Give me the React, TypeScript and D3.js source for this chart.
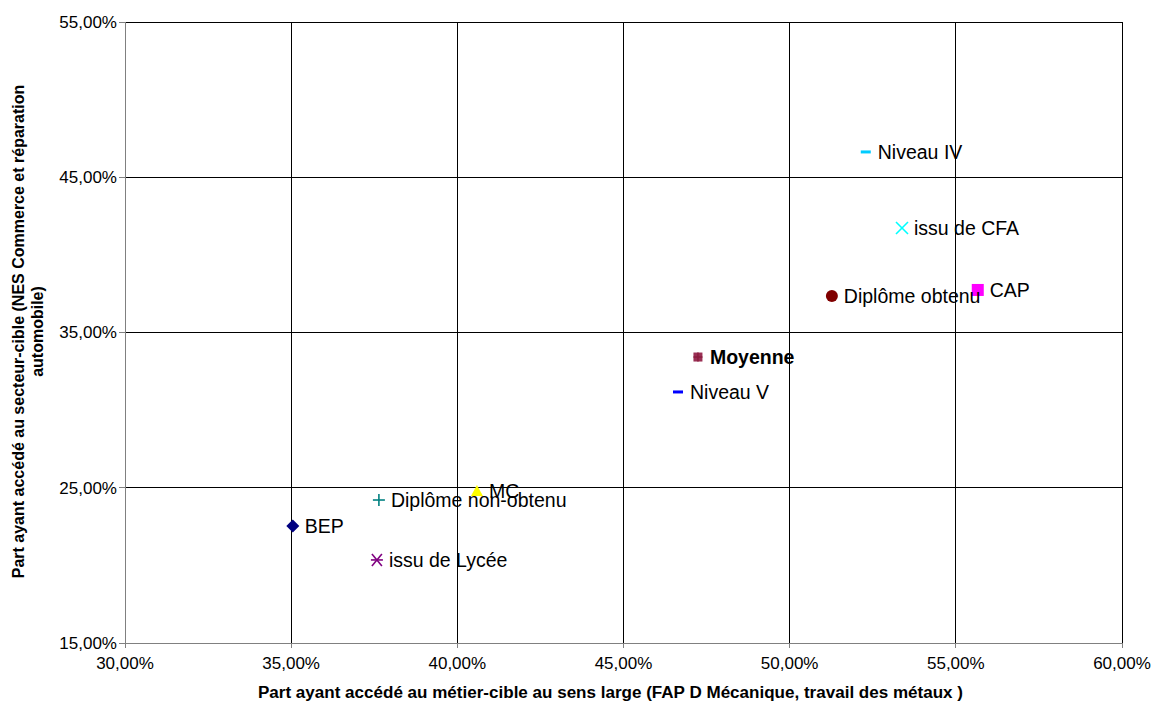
import React from "react";
import * as d3 from "d3";

// Share reaching the target occupation (x) and the target sector (y), in %
const labels = [
  "Niveau IV",
  "issu de CFA",
  "Diplôme obtenu",
  "CAP",
  "Moyenne",
  "Niveau V",
  "MC",
  "Diplôme non-obtenu",
  "BEP",
  "issu de Lycée",
];
const xValues = [52.29, 53.38, 51.27, 55.66, 47.24, 46.64, 40.59, 37.64, 35.05, 37.58];
const yValues = [46.63, 41.73, 37.35, 37.74, 33.42, 31.17, 24.79, 24.21, 22.54, 20.35];
const markerKinds = ["dash", "x", "circle", "square", "sqplus", "dash", "triangle", "plus", "diamond", "star"];
const markerColors = ["#00CCFF", "#00FFFF", "#800000", "#FF00FF", "#8B1E3F", "#0000FF", "#FFFF00", "#008080", "#000080", "#800080"];

const xTicks = [30, 35, 40, 45, 50, 55, 60];
const yTicks = [15, 25, 35, 45, 55];

const xTitle = "Part ayant accédé au métier-cible au sens large (FAP D Mécanique, travail des métaux )";
const yTitleLines = ["Part ayant accédé au secteur-cible (NES Commerce et réparation", "automobile)"];

const W = 1151;
const H = 702;
const plot = { left: 125, right: 1122, top: 22, bottom: 643 };
const FONT = "Arial, 'Liberation Sans', Helvetica, sans-serif";

const fmt = (v: number) => v.toFixed(2).replace(".", ",") + "%";

function Marker({ kind, color, x, y }: { kind: string; color: string; x: number; y: number }) {
  const s = 6;
  switch (kind) {
    case "dash":
      return <rect x={x - 5} y={y - 1.5} width={10} height={3} fill={color} />;
    case "x":
      return (
        <g stroke={color} strokeWidth={1.6}>
          <line x1={x - s} y1={y - s} x2={x + s} y2={y + s} />
          <line x1={x - s} y1={y + s} x2={x + s} y2={y - s} />
        </g>
      );
    case "circle":
      return <circle cx={x} cy={y} r={6} fill={color} />;
    case "square":
      return <rect x={x - 6} y={y - 6} width={12} height={12} fill={color} />;
    case "sqplus":
      return (
        <g>
          <rect x={x - 4.5} y={y - 4.5} width={9} height={9} fill="#9A3055" />
          <line x1={x - 4.5} y1={y} x2={x + 4.5} y2={y} stroke={color} strokeWidth={1.5} />
          <line x1={x} y1={y - 4.5} x2={x} y2={y + 4.5} stroke={color} strokeWidth={1.5} />
        </g>
      );
    case "triangle":
      return <path d={`M${x},${y - 6}L${x + 6},${y + 5}L${x - 6},${y + 5}Z`} fill={color} />;
    case "plus":
      return (
        <g stroke={color} strokeWidth={1.6}>
          <line x1={x - s} y1={y} x2={x + s} y2={y} />
          <line x1={x} y1={y - s} x2={x} y2={y + s} />
        </g>
      );
    case "diamond":
      return <path d={`M${x},${y - 6.5}L${x + 6.5},${y}L${x},${y + 6.5}L${x - 6.5},${y}Z`} fill={color} />;
    case "star":
      return (
        <g stroke={color} strokeWidth={1.6}>
          <line x1={x - 5} y1={y - 6} x2={x + 5} y2={y + 6} />
          <line x1={x - 5} y1={y + 6} x2={x + 5} y2={y - 6} />
          <line x1={x - 6} y1={y} x2={x + 6} y2={y} />
        </g>
      );
    default:
      return null;
  }
}

export default function App() {
  const xScale = d3.scaleLinear().domain([30, 60]).range([plot.left, plot.right]);
  const yScale = d3.scaleLinear().domain([15, 55]).range([plot.bottom, plot.top]);

  const points = labels.map((label, i) => ({
    label,
    x: xScale(xValues[i]),
    y: yScale(yValues[i]),
    kind: markerKinds[i],
    color: markerColors[i],
  }));

  const midY = (plot.top + plot.bottom) / 2 - 1;

  return (
    <div style={{ position: "absolute", left: 0, top: 0 }}>
      <svg width={W} height={H} style={{ display: "block", background: "#fff" }} fontFamily={FONT}>
        {/* grid */}
        {xTicks.slice(1).map((t) => (
          <line key={"gx" + t} x1={xScale(t)} x2={xScale(t)} y1={plot.top} y2={plot.bottom} stroke="#000" strokeWidth={1} shapeRendering="crispEdges" />
        ))}
        {yTicks.slice(1).map((t) => (
          <line key={"gy" + t} x1={plot.left} x2={plot.right} y1={yScale(t)} y2={yScale(t)} stroke="#000" strokeWidth={1} shapeRendering="crispEdges" />
        ))}
        {/* axes */}
        <line x1={plot.left} x2={plot.left} y1={plot.top} y2={plot.bottom} stroke="#808080" shapeRendering="crispEdges" />
        <line x1={plot.left} x2={plot.right} y1={plot.bottom} y2={plot.bottom} stroke="#808080" shapeRendering="crispEdges" />
        {yTicks.map((t) => (
          <g key={"yt" + t}>
            <line x1={plot.left - 6} x2={plot.left} y1={yScale(t)} y2={yScale(t)} stroke="#808080" shapeRendering="crispEdges" />
            <text x={plot.left - 8} y={yScale(t)} dy="0.35em" textAnchor="end" fontSize={17} fill="#000">
              {fmt(t)}
            </text>
          </g>
        ))}
        {xTicks.map((t) => (
          <g key={"xt" + t}>
            <line x1={xScale(t)} x2={xScale(t)} y1={plot.bottom} y2={plot.bottom + 5} stroke="#808080" shapeRendering="crispEdges" />
            <text x={xScale(t)} y={plot.bottom + 26} textAnchor="middle" fontSize={17} fill="#000">
              {fmt(t)}
            </text>
          </g>
        ))}
        {/* axis titles */}
        <text
          x={(plot.left + plot.right) / 2 - 13}
          y={698}
          textAnchor="middle"
          fontSize={16}
          fontWeight="bold"
          fill="#000"
          textLength={705}
          lengthAdjust="spacingAndGlyphs"
        >
          {xTitle}
        </text>
        <text transform={`translate(24,${midY}) rotate(-90)`} textAnchor="middle" fontSize={16} fontWeight="bold" fill="#000">
          <tspan x={0} dy="0">{yTitleLines[0]}</tspan>
          <tspan x={0} dy="19">{yTitleLines[1]}</tspan>
        </text>
        {/* points */}
        {points.map((p) => (
          <g key={p.label}>
            <Marker kind={p.kind} color={p.color} x={p.x} y={p.y} />
          </g>
        ))}
        {points.map((p) => (
          <text
            key={"l" + p.label}
            x={p.x + 12}
            y={p.y}
            dy="0.35em"
            fontSize={19.5}
            fontWeight={p.label === "Moyenne" ? "bold" : "normal"}
            fill="#000"
          >
            {p.label}
          </text>
        ))}
      </svg>
    </div>
  );
}
